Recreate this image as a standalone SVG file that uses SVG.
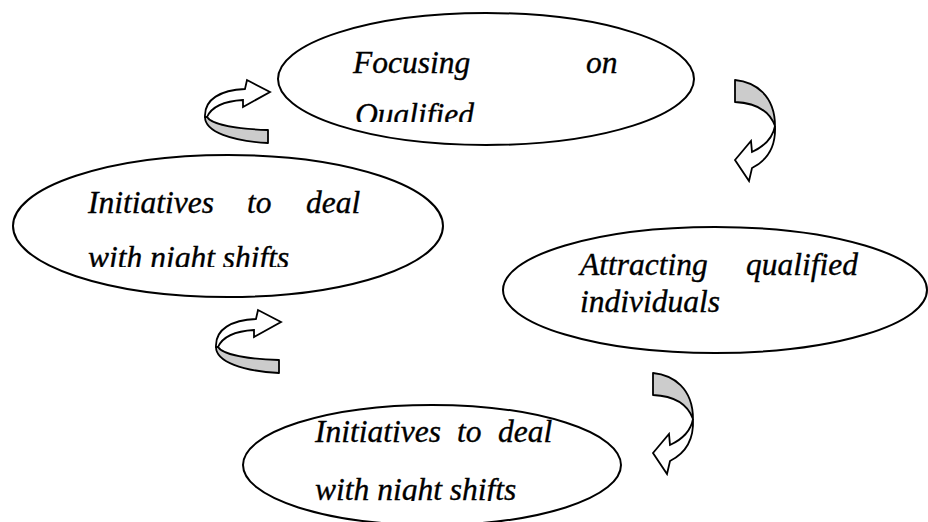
<svg xmlns="http://www.w3.org/2000/svg" width="928" height="522" viewBox="0 0 928 522">
<style>
.ell{fill:#fff;stroke:#000;stroke-width:2}
.t{font-family:"Liberation Serif","Times New Roman",serif;font-style:italic;font-size:31.5px;fill:#000;stroke:#000;stroke-width:0.35}
.gr{fill:#cccccc;stroke:#000;stroke-width:1.8;stroke-linejoin:round}
.wh{fill:#fff;stroke:#000;stroke-width:1.8;stroke-linejoin:miter}
</style>
<defs>
<clipPath id="c1"><rect x="270" y="0" width="440" height="122"/></clipPath>
<clipPath id="c2"><rect x="0" y="150" width="450" height="117"/></clipPath>
<clipPath id="c4"><rect x="240" y="400" width="450" height="101"/></clipPath>
<g id="arrDown">
<path class="wh" d="M775,126 C776,146 768,160 752,168 L749,181 L735,160 L751,141 L752,152 C765,146 773,137 775,126 Z"/>
<path class="gr" d="M735,80 C755,82 775,95 775,126 C770,112 757,103 735,102 Z"/>
</g>
<g id="arrUp">
<path class="wh" d="M205,117 C204,99 221,90 245,89 L247,80 L270,92 L243,107 L243,100 C226,101 212,106 207,117 Z"/>
<path class="gr" d="M205,117 C205,132 232,141 268,143 L268,130 C238,129 212,125 207,117 Z"/>
</g>
</defs>
<rect width="928" height="522" fill="#fff"/>
<g id="node-focusing">
<ellipse class="ell" cx="486" cy="79" rx="208" ry="66"/>
<g clip-path="url(#c1)">
<text class="t" x="353" y="73">Focusing</text>
<text class="t" x="586" y="73">on</text>
<text class="t" x="355" y="125">Qualified</text>
</g>
</g>
<g id="node-initiatives-left">
<ellipse class="ell" cx="228" cy="226" rx="215" ry="71"/>
<g clip-path="url(#c2)">
<text class="t" x="88" y="213">Initiatives</text>
<text class="t" x="247" y="213">to</text>
<text class="t" x="306" y="213">deal</text>
<text class="t" x="88" y="268">with night shifts</text>
</g>
</g>
<g id="node-attracting">
<ellipse class="ell" cx="715" cy="290" rx="212" ry="63"/>
<text class="t" x="580" y="275">Attracting</text>
<text class="t" x="746" y="275">qualified</text>
<text class="t" x="580" y="312">individuals</text>
</g>
<g id="node-initiatives-bottom">
<ellipse class="ell" cx="432" cy="465" rx="189" ry="60"/>
<g clip-path="url(#c4)">
<text class="t" x="315" y="442">Initiatives</text>
<text class="t" x="457" y="442">to</text>
<text class="t" x="498" y="442">deal</text>
<text class="t" x="315" y="500">with night shifts</text>
</g>
</g>
<g id="connectors">
<use href="#arrUp"/>
<use href="#arrDown"/>
<use href="#arrDown" transform="translate(-82,293)"/>
<use href="#arrUp" transform="translate(11,230)"/>
</g>
</svg>
